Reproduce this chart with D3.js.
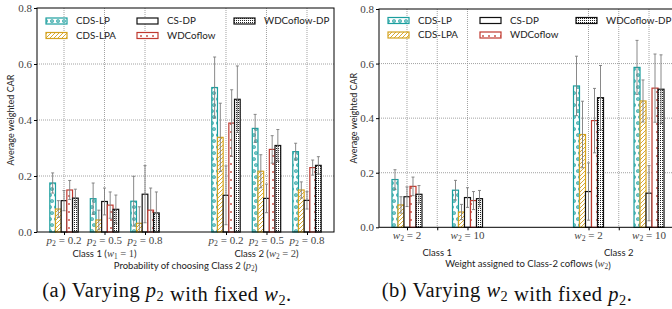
<!DOCTYPE html>
<html><head><meta charset="utf-8">
<script src="https://cdn.jsdelivr.net/npm/d3@7"></script>
<style>body{margin:0;background:#fff}svg{display:block}</style>
</head><body><svg id="c" width="672" height="309"></svg>
<script>
// ---------- data ----------
const methods = ["CDS-LP", "CDS-LPA", "CS-DP", "WDCoflow", "WDCoflow-DP"];
const yTicks = [0.0, 0.2, 0.4, 0.6, 0.8];

// panel (a): varying p2
const groupsA = ["0.2", "0.5", "0.8", "0.2", "0.5", "0.8"];
const posA = [0, 1, 2, 4, 5, 6];
const classLabelsA = [["Class 1", "w", "1", " = 1"], ["Class 2", "w", "2", " = 2"]];
const classPosA = [1, 5];
const cdsLP_a   = [0.175, 0.119, 0.110, 0.516, 0.370, 0.287];
const cdsLPA_a  = [0.082, 0.043, 0.031, 0.338, 0.217, 0.150];
const csDP_a    = [0.112, 0.109, 0.135, 0.131, 0.120, 0.113];
const wdc_a     = [0.150, 0.096, 0.078, 0.389, 0.295, 0.230];
const wdcDP_a   = [0.121, 0.081, 0.068, 0.474, 0.309, 0.238];
const cdsLP_aErr  = [0.036, 0.056, 0.089, 0.109, 0.050, 0.030];
const cdsLPA_aErr = [0.030, 0.035, 0.059, 0.122, 0.059, 0.029];
const csDP_aErr   = [0.036, 0.048, 0.102, 0.105, 0.051, 0.031];
const wdc_aErr    = [0.034, 0.047, 0.079, 0.119, 0.049, 0.027];
const wdcDP_aErr  = [0.032, 0.051, 0.075, 0.119, 0.057, 0.031];

// panel (b): varying w2
const groupsB = ["2", "10", "2", "10"];
const posB = [0, 2, 6, 8];
const classLabelsB = ["Class 1", "Class 2"];
const classPosB = [1, 7];
const cdsLP_b   = [0.175, 0.136, 0.518, 0.586];
const cdsLPA_b  = [0.082, 0.056, 0.340, 0.463];
const csDP_b    = [0.112, 0.109, 0.131, 0.125];
const wdc_b     = [0.150, 0.098, 0.391, 0.510];
const wdcDP_b   = [0.121, 0.105, 0.475, 0.506];
const cdsLP_bErr  = [0.036, 0.036, 0.109, 0.099];
const cdsLPA_bErr = [0.030, 0.028, 0.122, 0.077];
const csDP_bErr   = [0.036, 0.036, 0.105, 0.101];
const wdc_bErr    = [0.034, 0.033, 0.118, 0.125];
const wdcDP_bErr  = [0.032, 0.030, 0.118, 0.126];

// ---------- styles ----------
const edge = {"CDS-LP": "#1b9e9e", "CDS-LPA": "#d4a21e", "CS-DP": "#111", "WDCoflow": "#c0392f", "WDCoflow-DP": "#111"};
const SANS = "Lato, 'Open Sans', sans-serif";
const SERIF = "'Liberation Serif', 'DejaVu Serif', serif";

const svg = d3.select("#c");
const defs = svg.append("defs");
function pat(id, w, h, draw) {
  const p = defs.append("pattern").attr("id", id).attr("patternUnits", "userSpaceOnUse")
    .attr("width", w).attr("height", h);
  p.append("rect").attr("width", w).attr("height", h).attr("fill", "#fff");
  draw(p);
}
pat("p0", 6, 12, p => {
  [[2, 3], [4, 9]].forEach(c => p.append("circle").attr("cx", c[0]).attr("cy", c[1]).attr("r", 1.3)
    .attr("fill", "none").attr("stroke", edge["CDS-LP"]).attr("stroke-width", 1.1));
});
pat("p1", 4, 4, p => {
  p.append("path").attr("d", "M-1,5 L5,-1 M-1,1 L1,-1 M3,5 L5,3").attr("stroke", edge["CDS-LPA"]).attr("stroke-width", 0.9);
});
pat("p2", 4, 4, p => {});
pat("p3", 6, 8, p => {
  p.append("rect").attr("x", 2.2).attr("y", 3.2).attr("width", 1.6).attr("height", 1.6).attr("fill", edge["WDCoflow"]);
});
pat("p4", 2, 2, p => {
  p.append("rect").attr("x", 0).attr("y", 0).attr("width", 1).attr("height", 1).attr("fill", "#222");
});

function mathTspans(t, letter, sub, rest, size) {
  t.append("tspan").attr("font-style", "italic").text(letter);
  t.append("tspan").attr("font-size", size * 0.7).attr("dy", size * 0.2).text(sub);
  t.append("tspan").attr("dy", -size * 0.2).text(rest);
}

function panel(cfg) {
  const g = svg.append("g");
  const x = d3.scaleLinear().domain(cfg.xDomain).range(cfg.xRange);
  const y = d3.scaleLinear().domain([0, 0.8]).range(cfg.yRange);
  const [x0, x1] = cfg.xRange, [yb, yt] = cfg.yRange;

  // grid
  g.selectAll(".hg").data(yTicks.slice(1, 4)).join("line")
    .attr("x1", x0).attr("x2", x1).attr("y1", d => y(d)).attr("y2", d => y(d))
    .attr("stroke", "#8a8a8a").attr("stroke-width", 0.8).attr("stroke-dasharray", "1,1");
  g.selectAll(".vg").data(cfg.gridPos).join("line")
    .attr("x1", d => x(d)).attr("x2", d => x(d)).attr("y1", yt).attr("y2", yb)
    .attr("stroke", "#8a8a8a").attr("stroke-width", 0.8).attr("stroke-dasharray", "1,1");

  // bars
  const band = d3.scaleBand().domain(methods).range([-cfg.half, cfg.half]);
  cfg.series.forEach((vals, mi) => {
    const m = methods[mi];
    g.append("g").selectAll("rect").data(vals).join("rect")
      .attr("x", (d, i) => x(cfg.pos[i]) + band(m))
      .attr("width", band.bandwidth())
      .attr("y", d => y(d)).attr("height", d => y(0) - y(d))
      .attr("fill", `url(#p${mi})`).attr("stroke", edge[m]).attr("stroke-width", 1.2);
  });
  // error bars
  cfg.series.forEach((vals, mi) => {
    const m = methods[mi];
    const errs = cfg.errs[mi];
    const eg = g.append("g").attr("stroke", "#7c7c7c").attr("stroke-width", 0.9);
    vals.forEach((v, i) => {
      const cx = x(cfg.pos[i]) + band(m) + band.bandwidth() / 2;
      const lo = Math.max(0, v - errs[i]), hi = v + errs[i];
      eg.append("line").attr("x1", cx).attr("x2", cx).attr("y1", y(lo)).attr("y2", y(hi));
      eg.append("line").attr("x1", cx - 1.5).attr("x2", cx + 1.5).attr("y1", y(hi)).attr("y2", y(hi));
      eg.append("line").attr("x1", cx - 1.5).attr("x2", cx + 1.5).attr("y1", y(lo)).attr("y2", y(lo));
    });
  });

  // frame
  g.append("rect").attr("x", x0).attr("y", yt).attr("width", x1 - x0).attr("height", yb - yt)
    .attr("fill", "none").attr("stroke", "#000").attr("stroke-width", 1);

  // y axis
  const ya = g.append("g").attr("transform", `translate(${x0},0)`)
    .call(d3.axisLeft(y).tickValues(yTicks).tickFormat(d3.format(".1f")).tickSize(3).tickPadding(2));
  ya.select(".domain").remove();
  ya.selectAll("text").attr("font-family", SERIF).attr("font-size", 11).attr("fill", "#444");
  g.append("text").attr("transform", `translate(${cfg.ylabX},${(yt + yb) / 2}) rotate(-90)`)
    .attr("text-anchor", "middle").attr("font-family", SANS).attr("font-size", 9).attr("fill", "#222")
    .text("Average weighted CAR");

  // x ticks
  const xa = g.append("g").attr("transform", `translate(0,${yb})`)
    .call(d3.axisBottom(x).tickValues(cfg.gridPos).tickFormat("").tickSize(3));
  xa.select(".domain").remove();
  cfg.pos.forEach((p, i) => {
    const t = g.append("text").attr("x", x(p)).attr("y", yb + cfg.tickDy).attr("text-anchor", "middle")
      .attr("font-family", SERIF).attr("font-size", 11).attr("fill", "#444");
    mathTspans(t, cfg.letter, "2", " = " + cfg.groups[i], 11);
  });
  cfg.classLabels.forEach((c, i) => {
    const t = g.append("text").attr("x", x(cfg.classPos[i])).attr("y", yb + cfg.classDy).attr("text-anchor", "middle")
      .attr("font-family", SANS).attr("font-size", 9.5).attr("fill", "#222");
    if (Array.isArray(c)) {
      t.append("tspan").text(c[0] + " (");
      const s = t.append("tspan").attr("font-family", SERIF).attr("font-size", 10.5).attr("fill", "#444");
      mathTspans(s, c[1], c[2], c[3], 10.5);
      t.append("tspan").text(")");
    } else t.text(c);
  });
  const xl = g.append("text").attr("x", (x0 + x1) / 2).attr("y", yb + cfg.xlabDy).attr("text-anchor", "middle")
    .attr("font-family", SANS).attr("font-size", 9.5).attr("fill", "#222");
  xl.append("tspan").text(cfg.xlabel + " (");
  const xs = xl.append("tspan").attr("font-family", SERIF).attr("font-size", 10.5).attr("fill", "#444");
  mathTspans(xs, cfg.xlabLetter, "2", "", 10.5);
  xl.append("tspan").text(")");

  // legend
  const cols = cfg.legendCols, rows = cfg.legendRows;
  methods.forEach((m, mi) => {
    const col = [0, 0, 1, 1, 2][mi], row = [0, 1, 0, 1, 0][mi];
    g.append("rect").attr("x", cols[col]).attr("y", rows[row] - 3).attr("width", 21).attr("height", 6)
      .attr("fill", `url(#p${mi})`).attr("stroke", edge[m]).attr("stroke-width", 1.2);
    g.append("text").attr("x", cols[col] + 30).attr("y", rows[row]).attr("dy", "0.35em")
      .attr("font-family", SANS).attr("font-size", 9.8).attr("fill", "#222").text(m);
  });

  // caption
  const cap = g.append("text").attr("x", cfg.capX).attr("y", 297).attr("text-anchor", "middle")
    .attr("font-family", SERIF).attr("font-size", 20.5).attr("letter-spacing", 0.5).attr("fill", "#111");
  cap.append("tspan").text(cfg.cap[0] + " ");
  mathTspans(cap, cfg.cap[1], "2", "", 20.5);
  cap.append("tspan").text(" " + cfg.cap[2] + " ");
  mathTspans(cap, cfg.cap[3], "2", ".", 20.5);
}

panel({
  xDomain: [-0.667, 6.667], xRange: [37, 334], yRange: [232, 8],
  pos: posA, groups: groupsA, gridPos: posA, letter: "p",
  series: [cdsLP_a, cdsLPA_a, csDP_a, wdc_a, wdcDP_a],
  errs: [cdsLP_aErr, cdsLPA_aErr, csDP_aErr, wdc_aErr, wdcDP_aErr],
  half: 14.2, ylabX: 14, tickDy: 11.5, classDy: 24.5, xlabDy: 36.5,
  classLabels: classLabelsA, classPos: classPosA,
  xlabel: "Probability of choosing Class 2", xlabLetter: "p",
  legendCols: [46, 137, 234], legendRows: [21, 35.5],
  capX: 167, cap: ["(a) Varying", "p", "with fixed", "w"]
});
panel({
  xDomain: [-0.925, 8.925], xRange: [379, 677], yRange: [227.3, 9],
  pos: posB, groups: groupsB, gridPos: [0, 1, 2, 6, 7, 8], letter: "w",
  series: [cdsLP_b, cdsLPA_b, csDP_b, wdc_b, wdcDP_b],
  errs: [cdsLP_bErr, cdsLPA_bErr, csDP_bErr, wdc_bErr, wdcDP_bErr],
  half: 15, ylabX: 357, tickDy: 11.5, classDy: 29, xlabDy: 39.5,
  classLabels: classLabelsB, classPos: classPosB,
  xlabel: "Weight assigned to Class-2 coflows", xlabLetter: "w",
  legendCols: [388, 480, 576], legendRows: [20.5, 35],
  capX: 507, cap: ["(b) Varying", "w", "with fixed", "p"]
});
</script></body></html>
